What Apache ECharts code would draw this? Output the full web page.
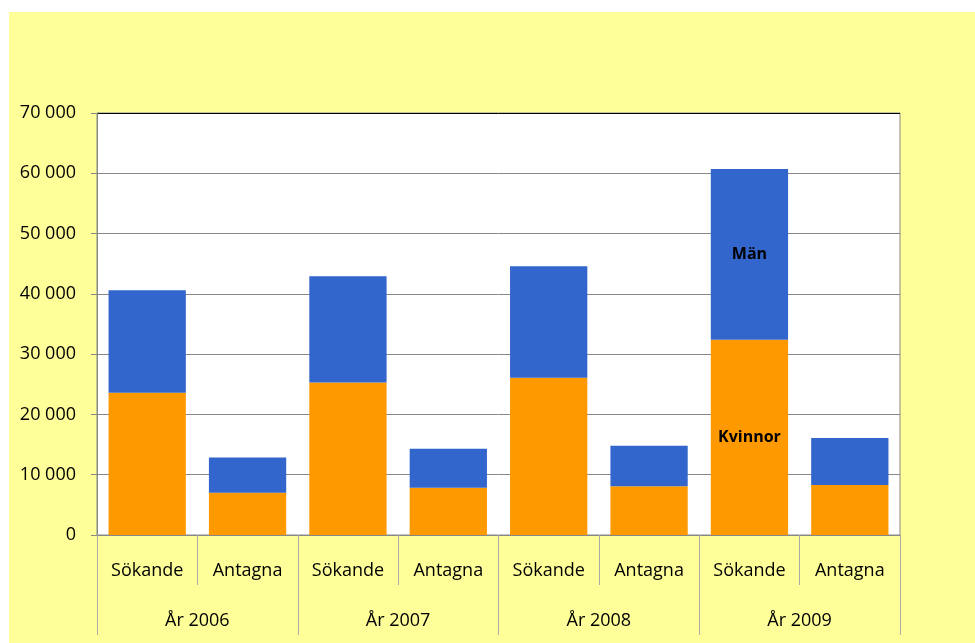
<!DOCTYPE html>
<html>
<head>
<meta charset="utf-8">
<script src="https://cdn.jsdelivr.net/npm/echarts@6/dist/echarts.min.js"></script>
<style>
  html, body { margin: 0; padding: 0; background: #fff; }
  #wrap { position: absolute; left: 9px; top: 12px; width: 966px; height: 631px; background: #FFFF99; }
  #chart { width: 100%; height: 100%; }
</style>
</head>
<body>
<div id="wrap"><div id="chart"></div></div>
<script>
// kategorier och värden (läst ur bilden)
var categories = ['Sökande', 'Antagna', 'Sökande', 'Antagna', 'Sökande', 'Antagna', 'Sökande', 'Antagna'];
var years = ['År 2006', 'År 2007', 'År 2008', 'År 2009'];
var kvinnor = [23600, 7000, 25300, 7850, 26100, 8100, 32400, 8300];
var man = [17000, 5850, 17600, 6450, 18500, 6700, 28300, 7800];
var labelIndex = 6; // etiketter bara på Sökande 2009

var chart = echarts.init(document.getElementById('chart'));

function withLabel(values, text) {
  return values.map(function (v, i) {
    if (i !== labelIndex) return v;
    return { value: v, label: { show: true, formatter: text } };
  });
}

var option = {
  animation: false,
  textStyle: { fontFamily: 'Open Sans' },
  grid: {
    left: 88, right: 75, top: 101, bottom: 108,
    show: true, backgroundColor: '#fff', borderColor: '#888', borderWidth: 1
  },
  xAxis: [{
    type: 'category',
    data: categories,
    position: 'bottom',
    axisLine: { lineStyle: { color: '#888', width: 1 } },
    axisTick: { show: true, interval: 0, length: 50, lineStyle: { color: '#aaa', width: 1 } },
    axisLabel: { color: '#000', fontSize: 18, margin: 27 }
  }, {
    type: 'category',
    data: years,
    position: 'bottom',
    axisLine: { show: false },
    axisTick: { show: true, interval: 0, length: 100, lineStyle: { color: '#aaa', width: 1 } },
    axisLabel: { color: '#000', fontSize: 18, margin: 77 }
  }],
  yAxis: {
    type: 'value',
    min: 0, max: 70000, interval: 10000,
    axisLine: { show: true, lineStyle: { color: '#888' } },
    axisTick: { show: true, length: 6, inside: false, lineStyle: { color: '#888' } },
    axisLabel: {
      color: '#000', fontSize: 18, margin: 21,
      formatter: function (v) { return String(v).replace(/\B(?=(\d{3})+(?!\d))/g, ' '); }
    },
    splitLine: {
      lineStyle: { color: ['#888', '#888', '#888', '#888', '#888', '#888', '#888', '#000'], width: 1 }
    }
  },
  series: [{
    name: 'Kvinnor',
    type: 'bar',
    stack: 'tot',
    barCategoryGap: '23%',
    xAxisIndex: 0,
    itemStyle: { color: '#FF9900' },
    label: { show: false, position: 'inside', color: '#000', fontWeight: 'bold', fontSize: 16 },
    data: withLabel(kvinnor, 'Kvinnor')
  }, {
    name: 'Män',
    type: 'bar',
    stack: 'tot',
    xAxisIndex: 0,
    itemStyle: { color: '#3366CC' },
    label: { show: false, position: 'inside', color: '#000', fontWeight: 'bold', fontSize: 16 },
    data: withLabel(man, 'Män')
  }]
};

chart.setOption(option);
window.addEventListener('resize', function () { chart.resize(); });
</script>
</body>
</html>
